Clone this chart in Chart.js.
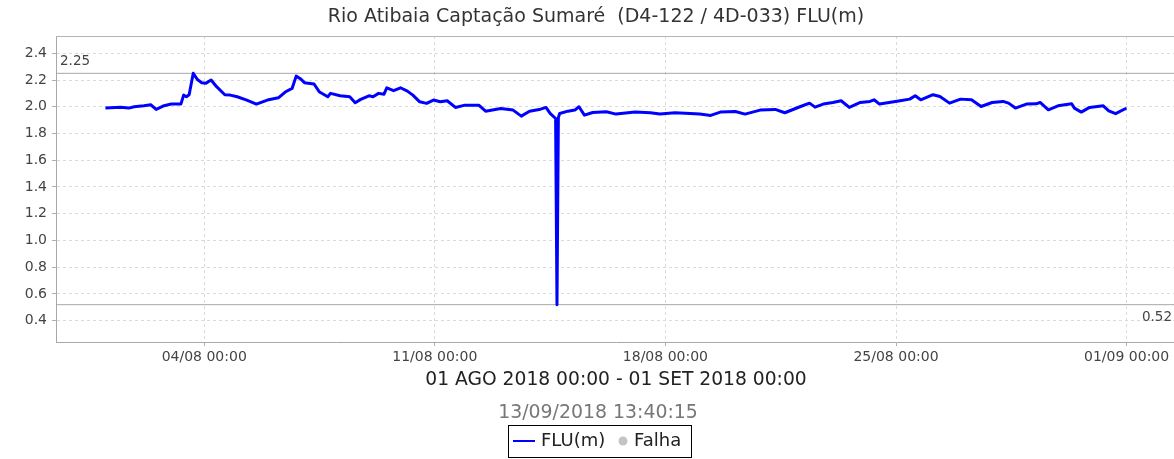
<!DOCTYPE html>
<html>
<head>
<meta charset="utf-8">
<script src="https://cdn.jsdelivr.net/npm/chart.js@4.4.1/dist/chart.umd.min.js"></script>
<style>
  html, body { margin: 0; padding: 0; background: #fff; overflow: hidden; }
  canvas { display: block; }
</style>
</head>
<body>
<canvas id="levelChart" width="1192" height="459"></canvas>
<script>
// hours counted from 01/08/2018 00:00
const hours = [
  0, 11, 17, 21, 28, 33, 37, 42, 48, 55, 57, 59, 61, 64, 67, 70, 73, 77, 81, 87, 91,
  96, 103, 110, 118, 126, 131, 136, 139, 142, 145, 152, 156, 162, 164, 171, 178, 182, 186,
  192, 195, 199, 203, 205, 210, 215, 220, 224, 229, 234, 239, 244, 249, 255, 262, 272, 277,
  288, 297, 303, 309, 317, 321, 324, 328, 329, 330, 331, 337, 342, 345, 349, 355, 365, 372,
  386, 397, 404, 415, 426, 433, 441, 448, 459, 466, 477, 488, 495, 506,
  513, 517, 523, 530, 536, 542, 550, 557, 560, 564, 571, 579, 586, 590, 594, 597, 603, 608,
  615, 623, 631, 638, 646, 654, 658, 663, 671, 678, 681, 687, 694, 704, 706, 711, 717, 727,
  731, 736, 743, 744
];
const levels = [
  1.99, 1.997, 1.99, 2.0, 2.007, 2.015, 1.98, 2.005, 2.02, 2.02, 2.087, 2.075, 2.09, 2.25, 2.204, 2.18, 2.175, 2.2, 2.15, 2.09, 2.087,
  2.075, 2.05, 2.02, 2.05, 2.067, 2.11, 2.137, 2.229, 2.21, 2.18, 2.17, 2.11, 2.075, 2.1, 2.082, 2.075, 2.03, 2.055,
  2.082, 2.075, 2.1, 2.094, 2.142, 2.12, 2.142, 2.117, 2.087, 2.037, 2.025, 2.05, 2.037, 2.045, 1.995, 2.012, 2.012, 1.967,
  1.987, 1.975, 1.93, 1.967, 1.982, 1.995, 1.95, 1.912, 0.52, 1.92, 1.95, 1.967, 1.975, 2.0, 1.937, 1.957, 1.962, 1.945,
  1.96, 1.955, 1.945, 1.955, 1.95, 1.945, 1.935, 1.96, 1.965, 1.945, 1.975, 1.98, 1.955, 2.0,
  2.027, 1.997, 2.02, 2.032, 2.045, 1.995, 2.032, 2.04, 2.052, 2.02, 2.032, 2.045, 2.057, 2.082, 2.052, 2.065, 2.09, 2.077,
  2.027, 2.057, 2.052, 2.002, 2.032, 2.04, 2.027, 1.99, 2.02, 2.022, 2.032, 1.977, 2.007, 2.022, 1.99, 1.96, 1.995, 2.007,
  1.97, 1.948, 1.985, 1.985
];
const maxLevel = 2.25;
const minLevel = 0.52;
const weekTicks = [72, 240, 408, 576, 744];

const chartTitle = 'Rio Atibaia Captação Sumaré  (D4-122 / 4D-033) FLU(m)';
const periodText = '01 AGO 2018 00:00 - 01 SET 2018 00:00';
const generatedAt = '13/09/2018 13:40:15';
const legendNames = ['FLU(m)', 'Falha'];

const FONT = '"DejaVu Sans", sans-serif';
const pad2 = n => String(n).padStart(2, '0');

function hourLabel(h) {
  let day = 1 + Math.floor(h / 24), month = 8;
  if (day > 31) { day -= 31; month = 9; }
  return pad2(day) + '/' + pad2(month) + ' 00:00';
}

// title, frame top, marker texts, subtitle and boxed legend
const decorPlugin = {
  id: 'decor',
  afterDraw(chart) {
    const {ctx, chartArea, scales} = chart;
    ctx.save();
    ctx.textBaseline = 'middle';

    ctx.fillStyle = '#333';
    ctx.font = '19px ' + FONT;
    ctx.textAlign = 'center';
    ctx.fillText(chartTitle, 596, 17);

    ctx.strokeStyle = '#b4b4b4';
    ctx.lineWidth = 1;
    ctx.beginPath();
    ctx.moveTo(chartArea.left, chartArea.top + 0.5);
    ctx.lineTo(chartArea.right, chartArea.top + 0.5);
    ctx.stroke();

    const yMax = scales.y.getPixelForValue(maxLevel);
    const yMin = scales.y.getPixelForValue(minLevel);
    ctx.fillStyle = '#444';
    ctx.font = '13.5px ' + FONT;
    ctx.textAlign = 'left';
    ctx.fillText(maxLevel.toFixed(2), chartArea.left + 4, yMax - 12);
    ctx.textAlign = 'right';
    ctx.fillText(minLevel.toFixed(2), chartArea.right - 4, yMin + 13);

    ctx.fillStyle = '#777';
    ctx.font = '18.9px ' + FONT;
    ctx.textAlign = 'center';
    ctx.fillText(generatedAt, 598, 413);

    // legend
    ctx.strokeStyle = '#000';
    ctx.strokeRect(508.5, 425.5, 183, 32);
    ctx.strokeStyle = '#0000ff';
    ctx.lineWidth = 2;
    ctx.beginPath();
    ctx.moveTo(513, 441);
    ctx.lineTo(535, 441);
    ctx.stroke();
    ctx.fillStyle = '#222';
    ctx.font = '18px ' + FONT;
    ctx.textAlign = 'left';
    ctx.fillText(legendNames[0], 541, 441);
    ctx.fillStyle = '#c4c4c4';
    ctx.beginPath();
    ctx.arc(623, 441, 4.5, 0, Math.PI * 2);
    ctx.fill();
    ctx.fillStyle = '#222';
    ctx.fillText(legendNames[1], 634, 441);
    ctx.restore();
  }
};

const series = hours.map((h, i) => ({x: h, y: levels[i]}));
const span = [-36, 780];

new Chart(document.getElementById('levelChart'), {
  type: 'line',
  data: {
    datasets: [
      {
        label: legendNames[0],
        data: series,
        borderColor: '#0000ff',
        borderWidth: 3,
        pointRadius: 0,
        tension: 0,
        borderJoinStyle: 'round'
      },
      {
        label: 'max',
        data: span.map(x => ({x: x, y: maxLevel})),
        borderColor: '#a8a8a8',
        borderWidth: 1,
        pointRadius: 0
      },
      {
        label: 'min',
        data: span.map(x => ({x: x, y: minLevel})),
        borderColor: '#a8a8a8',
        borderWidth: 1,
        pointRadius: 0
      }
    ]
  },
  options: {
    responsive: false,
    animation: false,
    layout: { padding: { top: 36, right: 16, bottom: 65, left: 0 } },
    plugins: {
      legend: { display: false },
      title: { display: false },
      tooltip: { enabled: false }
    },
    scales: {
      x: {
        type: 'linear',
        min: span[0],
        max: span[1],
        afterBuildTicks: scale => { scale.ticks = weekTicks.map(v => ({value: v})); },
        afterFit: scale => { scale.height = 52; scale.paddingLeft = 0; scale.paddingRight = 0; },
        ticks: {
          callback: v => hourLabel(v),
          color: '#444',
          font: { family: FONT, size: 14 },
          maxRotation: 0,
          autoSkip: false,
          padding: 3
        },
        grid: { color: '#dadada', tickLength: 4, tickColor: '#b0b0b0', tickBorderDash: [] },
        border: { color: '#a8a8a8', dash: [3, 3] },
        title: {
          display: true,
          text: periodText,
          color: '#222',
          font: { family: FONT, size: 18.7 },
          padding: { top: 0, bottom: 3 }
        }
      },
      y: {
        min: 0.241,
        max: 2.529,
        afterFit: scale => { scale.width = 56; scale.paddingTop = 0; scale.paddingBottom = 0; },
        ticks: {
          stepSize: 0.2,
          includeBounds: false,
          callback: v => v.toFixed(1),
          color: '#444',
          font: { family: FONT, size: 14 },
          padding: 5
        },
        grid: { color: '#dadada', tickLength: 4, tickColor: '#b0b0b0', tickBorderDash: [] },
        border: { color: '#a8a8a8', dash: [3, 3] }
      }
    }
  },
  plugins: [decorPlugin]
});
</script>
</body>
</html>
